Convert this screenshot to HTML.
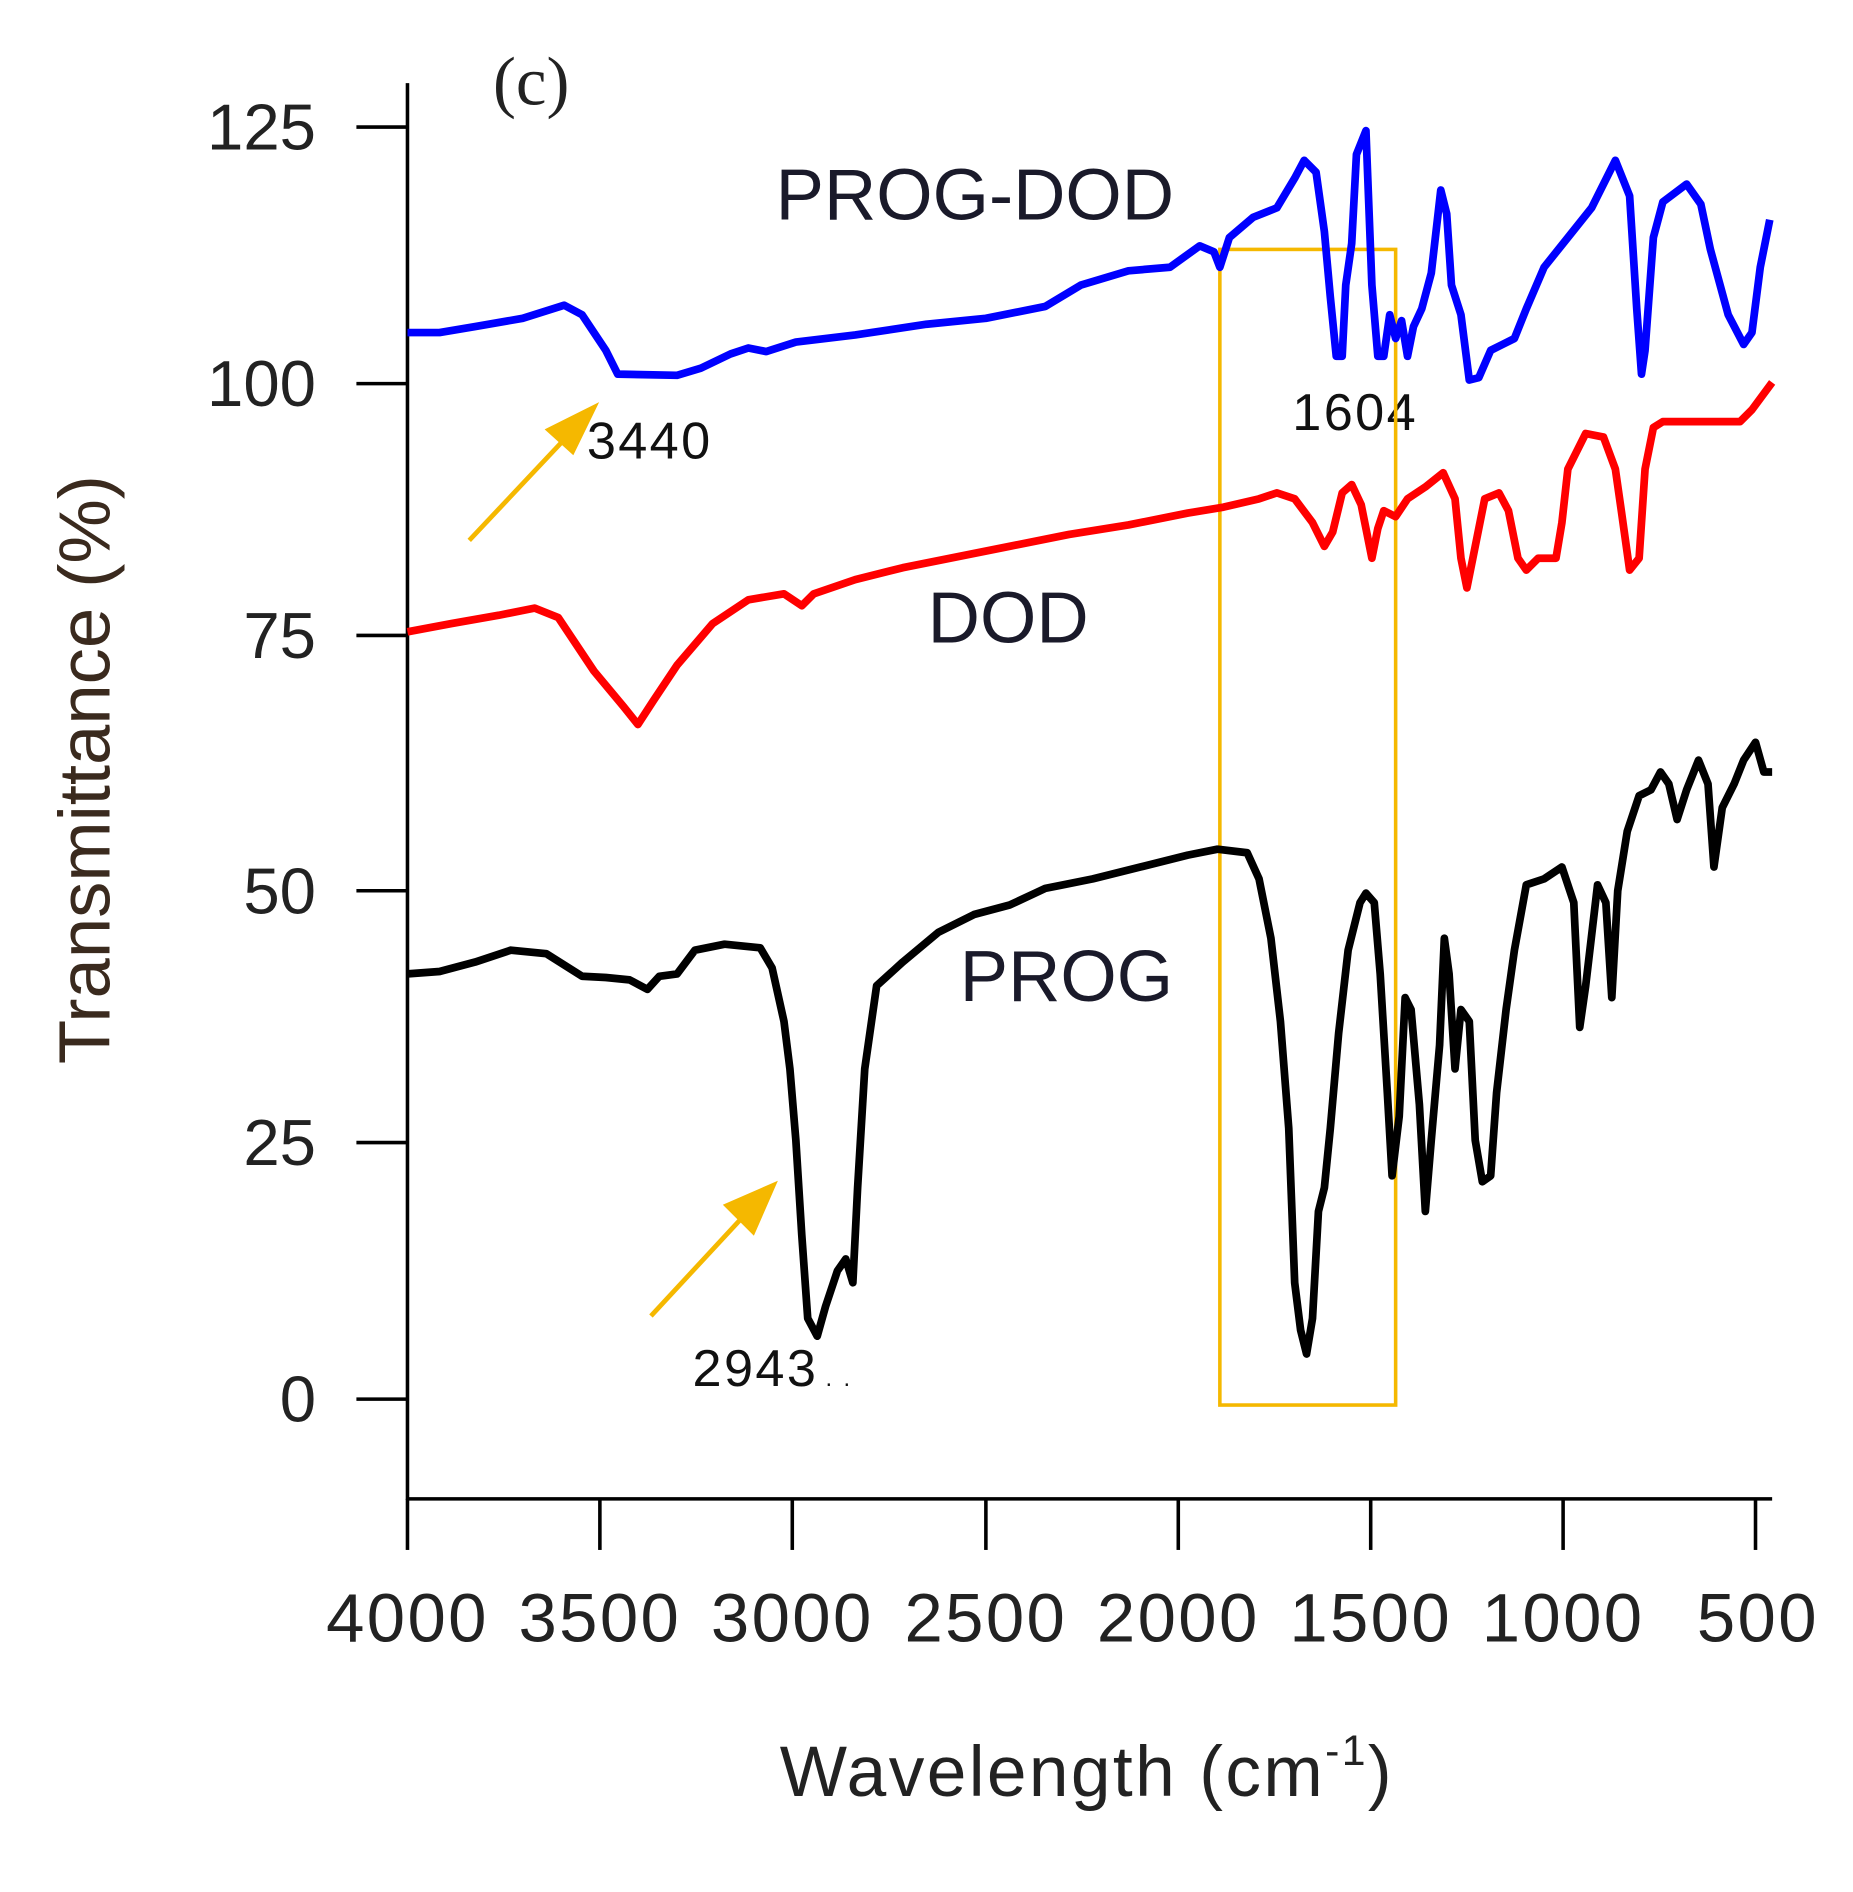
<!DOCTYPE html>
<html><head><meta charset="utf-8"><style>
html,body{margin:0;padding:0;background:#fff;}
svg{display:block;}
</style></head><body>
<svg width="1853" height="1892" viewBox="0 0 1560 1593" xmlns="http://www.w3.org/2000/svg" font-family="Liberation Sans, sans-serif">
<rect width="1560" height="1593" fill="#fff"/>
<!-- axes -->
<line x1="343" y1="70" x2="343" y2="1263" stroke="#000" stroke-width="3"/>
<line x1="342" y1="1262" x2="1492" y2="1262" stroke="#000" stroke-width="3"/>
<g stroke="#000" stroke-width="3">
<line x1="300" y1="107" x2="343" y2="107"/><line x1="300" y1="323" x2="343" y2="323"/>
<line x1="300" y1="535" x2="343" y2="535"/><line x1="300" y1="750" x2="343" y2="750"/>
<line x1="300" y1="962" x2="343" y2="962"/><line x1="300" y1="1178" x2="343" y2="1178"/>
<line x1="343" y1="1262" x2="343" y2="1305"/><line x1="505" y1="1262" x2="505" y2="1305"/>
<line x1="667" y1="1262" x2="667" y2="1305"/><line x1="830" y1="1262" x2="830" y2="1305"/>
<line x1="992" y1="1262" x2="992" y2="1305"/><line x1="1154" y1="1262" x2="1154" y2="1305"/>
<line x1="1316" y1="1262" x2="1316" y2="1305"/><line x1="1478" y1="1262" x2="1478" y2="1305"/>
</g>
<g font-size="55" fill="#222" text-anchor="end">
<text x="266" y="126">125</text><text x="266" y="342">100</text><text x="266" y="554">75</text>
<text x="266" y="769">50</text><text x="266" y="981">25</text><text x="266" y="1197">0</text>
</g>
<g font-size="58" fill="#222" text-anchor="middle" letter-spacing="2">
<text x="343" y="1382">4000</text><text x="505" y="1382">3500</text><text x="667" y="1382">3000</text>
<text x="830" y="1382">2500</text><text x="992" y="1382">2000</text><text x="1154" y="1382">1500</text>
<text x="1316" y="1382">1000</text><text x="1480" y="1382">500</text>
</g>
<text transform="translate(92,648) rotate(-90)" font-size="61" fill="#3a2a1e" text-anchor="middle">Transmittance (%)</text>
<text x="915" y="1512" font-size="60" fill="#222" text-anchor="middle" letter-spacing="2">Wavelength (cm<tspan font-size="36" dy="-26">-1</tspan><tspan dy="26">)</tspan></text>
<text x="415" y="88" font-family="Liberation Serif, serif" font-size="58" fill="#222">(c)</text>
<g font-size="61" fill="#1a1a2a">
<text x="653" y="185">PROG-DOD</text>
<text x="781" y="541">DOD</text>
<text x="808" y="843">PROG</text>
</g>
<g font-size="44" fill="#111" letter-spacing="2">
<text x="494" y="386">3440</text>
<text x="1088" y="362">1604</text>
<text x="583" y="1167">2943</text><text x="695" y="1167" font-size="20">. .</text>
</g>
<!-- orange box & arrows -->
<rect x="1027" y="210" width="148" height="973" fill="none" stroke="#f5b800" stroke-width="3"/>
<g stroke="#f5b800" stroke-width="4" fill="#f5b800">
<line x1="395" y1="455" x2="475" y2="370"/><polygon points="500,343 462,362 482,380"/>
<line x1="548" y1="1108" x2="625" y2="1025"/><polygon points="651,998 612,1015 634,1037"/>
</g>
<!-- series -->
<g fill="none" stroke-width="6.5" stroke-linejoin="round">
<polyline stroke="#0000ff" points="343,280 370,280 400,275 440,268 475,257 490,265 510,295 520,315 570,316 590,310 615,298 630,293 645,296 670,288 720,282 780,273 830,268 880,258 910,240 950,228 985,225 1010,207 1022,212 1027,225 1035,200 1055,183 1075,175 1090,150 1098,135 1108,145 1115,195 1120,250 1125,300 1130,300 1133,240 1138,205 1142,130 1150,110 1155,240 1160,300 1165,300 1170,265 1175,285 1180,270 1185,300 1190,275 1197,260 1205,230 1213,160 1218,180 1222,240 1230,265 1237,320 1245,318 1255,295 1265,290 1275,285 1285,260 1300,225 1320,200 1340,175 1360,135 1372,165 1378,260 1382,315 1385,295 1392,200 1400,170 1420,155 1432,172 1440,210 1455,265 1468,290 1475,280 1482,225 1490,185"/>
<polyline stroke="#ff0000" points="343,532 380,525 420,518 450,512 470,520 500,565 525,595 537,610 550,590 570,560 600,525 630,505 660,500 675,510 685,500 720,488 760,478 800,470 850,460 900,450 950,442 1000,432 1030,427 1060,420 1075,415 1090,420 1105,440 1115,460 1122,448 1130,415 1138,408 1146,425 1150,445 1155,470 1160,445 1165,430 1175,435 1185,420 1200,410 1215,398 1225,420 1230,470 1235,495 1240,470 1250,420 1262,415 1270,430 1278,470 1285,480 1295,470 1310,470 1315,440 1320,395 1335,365 1350,368 1360,395 1365,430 1372,480 1380,470 1385,395 1392,360 1400,355 1440,355 1465,355 1475,345 1492,322"/>
<polyline stroke="#000" points="343,820 370,818 400,810 430,800 460,803 490,822 510,823 530,825 545,833 555,822 570,820 585,800 610,795 640,798 650,815 660,860 665,900 670,960 675,1040 680,1110 688,1125 695,1100 705,1070 712,1060 718,1080 722,1000 728,900 738,830 760,810 790,785 820,770 850,762 880,748 920,740 960,730 1000,720 1025,715 1050,718 1060,740 1070,790 1078,860 1085,950 1090,1080 1095,1120 1100,1140 1105,1110 1110,1020 1115,1000 1120,950 1127,870 1135,800 1145,760 1150,752 1157,760 1162,820 1168,920 1172,990 1178,940 1183,840 1188,850 1195,930 1200,1020 1205,960 1212,880 1216,790 1220,820 1225,900 1230,850 1237,860 1242,960 1248,995 1255,990 1260,920 1268,850 1275,800 1285,745 1300,740 1315,730 1325,760 1330,865 1335,830 1345,745 1352,760 1357,840 1362,750 1370,700 1380,670 1390,665 1398,650 1405,660 1412,690 1420,665 1430,640 1438,660 1443,730 1450,680 1460,660 1468,640 1478,625 1485,650 1492,650"/>
</g>
</svg>
</body></html>
